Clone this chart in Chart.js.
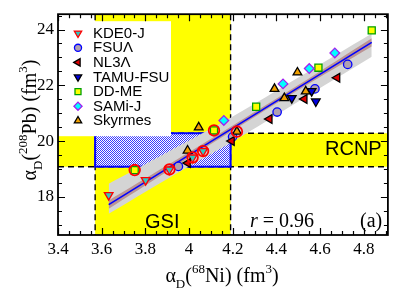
<!DOCTYPE html>
<html><head><meta charset="utf-8">
<script src="https://cdn.jsdelivr.net/npm/chart.js@4/dist/chart.umd.min.js"></script>
<style>html,body{margin:0;padding:0;background:#fff;} #wrap{width:395px;height:289px;position:relative;}</style>
</head><body><div id="wrap"><canvas id="c" width="395" height="289"></canvas></div>
<script>
// ---- data ----
const xTicks = [3.4, 3.6, 3.8, 4, 4.2, 4.4, 4.6, 4.8];
const yTicks = [18, 20, 22, 24];
const xRange = [3.4, 4.91];
const yRange = [16.63, 24.55];

const kde0jX = [3.632, 3.801, 3.910, 4.016, 4.064];
const kde0jY = [18.06, 18.60, 18.98, 19.41, 19.64];
const fsuLX = [3.951, 4.199, 4.403, 4.576, 4.726];
const fsuLY = [19.09, 20.15, 21.04, 21.87, 22.75];
const nl3LX = [3.994, 4.195, 4.368, 4.528, 4.678];
const nl3LY = [19.21, 20.00, 20.79, 21.51, 22.27];
const tamuX = [4.470, 4.561, 4.580];
const tamuY = [21.54, 21.79, 21.42];
const ddmeX = [3.751, 4.114, 4.307, 4.592, 4.836];
const ddmeY = [18.96, 20.38, 21.23, 22.63, 23.97];
const samiX = [4.159, 4.430, 4.550, 4.667];
const samiY = [20.74, 22.05, 22.60, 23.16];
const skyX = [3.993, 4.044, 4.219, 4.391, 4.436, 4.496, 4.534];
const skyY = [19.66, 20.49, 20.34, 21.87, 21.54, 22.46, 21.78];
const markedX = [3.751, 3.910, 4.016, 4.064, 4.114, 4.219];
const markedY = [18.96, 18.98, 19.41, 19.64, 20.38, 20.34];

const fitX = [3.632, 4.836];
const fitY = [17.72, 23.54];
const bandX = [3.632, 3.9, 4.2, 4.5, 4.836];
const bandHi = [18.47, 19.60, 20.88, 22.28, 23.86];
const bandLo = [17.39, 18.64, 19.98, 21.42, 23.02];
const errHi = [17.87, 19.13, 20.56, 22.01, 23.69];
const errLo = [17.57, 18.91, 20.38, 21.83, 23.39];

const gsiX = [3.57, 4.19];
const rcnpY = [19.08, 20.28];

const seriesNames = ['KDE0-J', 'FSU\u039B', 'NL3\u039B', 'TAMU-FSU', 'DD-ME', 'SAMi-J', 'Skyrmes'];
const annGSI = 'GSI', annRCNP = 'RCNP', annR = '0.96', annPanel = '(a)';

// ---- styles ----
const mk = [
  {style:'triangle', rot:180, fill:'#30c8c0', stroke:'#ff0000', r:5},
  {style:'circle', rot:0, fill:'#b0a0b0', stroke:'#0000ff', r:4.2},
  {style:'triangle', rot:-90, fill:'#e00000', stroke:'#000000', r:5},
  {style:'triangle', rot:180, fill:'#0000e0', stroke:'#000000', r:5},
  {style:'rect', rot:0, fill:'#ffff00', stroke:'#00a000', r:5},
  {style:'rectRot', rot:0, fill:'#00ffff', stroke:'#a020f0', r:4.8},
  {style:'triangle', rot:0, fill:'#f0a000', stroke:'#000000', r:5}
];
const seriesX = [kde0jX, fsuLX, nl3LX, tamuX, ddmeX, samiX, skyX];
const seriesY = [kde0jY, fsuLY, nl3LY, tamuY, ddmeY, samiY, skyY];
const pts = (xs, ys) => xs.map((x, i) => ({x: x, y: ys[i]}));

const datasets = [
  {type:'line', data: pts(bandX, bandHi), borderWidth:0, pointRadius:0, fill:false, order:12, tension:0.3},
  {type:'line', data: pts(bandX, bandLo), borderWidth:0, pointRadius:0, fill:'-1', backgroundColor:'#d4d4d4', order:11, tension:0.3},
  {type:'line', data: pts(bandX, errHi), borderWidth:0, pointRadius:0, fill:false, order:10, tension:0.3},
  {type:'line', data: pts(bandX, errLo), borderWidth:0, pointRadius:0, fill:'-1', backgroundColor:'#bc9494', order:9, tension:0.3},
  {type:'line', data: pts(fitX, fitY), borderColor:'#0000ff', borderWidth:1.6, pointRadius:0, fill:false, order:8}
];
seriesX.forEach((xs, i) => {
  datasets.push({
    type:'scatter', label: seriesNames[i], data: pts(xs, seriesY[i]),
    pointStyle: mk[i].style, rotation: mk[i].rot, pointRadius: mk[i].r,
    backgroundColor: mk[i].fill, borderColor: mk[i].stroke, borderWidth: 1.3,
    order: 7 - i
  });
});
datasets.push({type:'scatter', data: pts(markedX, markedY), pointStyle:'circle', pointRadius:5.3,
  backgroundColor:'rgba(0,0,0,0)', borderColor:'#ff0000', borderWidth:1.8, order:0});

// ---- helpers ----
function drawMarker(ctx, m, x, y) {
  ctx.save();
  ctx.translate(x, y);
  ctx.rotate(m.rot * Math.PI / 180);
  ctx.beginPath();
  const r = m.r;
  if (m.style === 'circle') ctx.arc(0, 0, r, 0, Math.PI * 2);
  else if (m.style === 'triangle') { ctx.moveTo(0, -r); ctx.lineTo(r*0.866, r*0.5); ctx.lineTo(-r*0.866, r*0.5); ctx.closePath(); }
  else if (m.style === 'rect') { const s = r * Math.SQRT1_2; ctx.rect(-s, -s, 2*s, 2*s); }
  else if (m.style === 'rectRot') { ctx.moveTo(0, -r); ctx.lineTo(r, 0); ctx.lineTo(0, r); ctx.lineTo(-r, 0); ctx.closePath(); }
  ctx.fillStyle = m.fill; ctx.fill();
  ctx.lineWidth = 1.3; ctx.strokeStyle = m.stroke; ctx.stroke();
  ctx.restore();
}
function richText(ctx, parts, cx, base, size) {
  const fam = '"Liberation Serif", "Times New Roman", serif';
  const small = Math.round(size * 0.65);
  let w = 0;
  parts.forEach(p => { ctx.font = (p.k === 'n' ? size : small) + 'px ' + fam; p.w = ctx.measureText(p.t).width; w += p.w; });
  let x = cx - w / 2;
  ctx.textAlign = 'left'; ctx.textBaseline = 'alphabetic'; ctx.fillStyle = '#000';
  parts.forEach(p => {
    ctx.font = (p.k === 'n' ? size : small) + 'px ' + fam;
    const dy = p.k === 'sup' ? -size * 0.45 : (p.k === 'sub' ? size * 0.3 : 0);
    ctx.fillText(p.t, x, base + dy);
    x += p.w;
  });
}
let hatch = null;
function getHatch(ctx) {
  if (hatch) return hatch;
  const c = document.createElement('canvas'); c.width = 2; c.height = 2;
  const g = c.getContext('2d');
  g.fillStyle = '#ffffff'; g.fillRect(0, 0, 2, 2);
  g.fillStyle = '#3a3aff'; g.fillRect(0, 0, 1, 1); g.fillRect(1, 1, 1, 1);
  hatch = ctx.createPattern(c, 'repeat');
  return hatch;
}

const deco = {
  id: 'deco',
  beforeDatasetsDraw(chart) {
    const ctx = chart.ctx, a = chart.chartArea, xs = chart.scales.x, ys = chart.scales.y;
    ctx.save();
    ctx.beginPath(); ctx.rect(a.left, a.top, a.right - a.left, a.bottom - a.top); ctx.clip();
    const gx0 = xs.getPixelForValue(gsiX[0]), gx1 = xs.getPixelForValue(gsiX[1]);
    const ry0 = ys.getPixelForValue(rcnpY[1]), ry1 = ys.getPixelForValue(rcnpY[0]);
    ctx.fillStyle = '#ffff00';
    ctx.fillRect(gx0, a.top, gx1 - gx0, a.bottom - a.top);
    ctx.fillRect(a.left, ry0, a.right - a.left, ry1 - ry0);
    ctx.strokeStyle = '#000'; ctx.lineWidth = 1.4; ctx.setLineDash([6, 4]);
    ctx.beginPath();
    ctx.moveTo(gx0, a.top); ctx.lineTo(gx0, a.bottom);
    ctx.moveTo(gx1, a.top); ctx.lineTo(gx1, a.bottom);
    ctx.moveTo(a.left, ry0); ctx.lineTo(a.right, ry0);
    ctx.moveTo(a.left, ry1); ctx.lineTo(a.right, ry1);
    ctx.stroke();
    ctx.setLineDash([]);
    ctx.fillStyle = getHatch(ctx);
    ctx.fillRect(gx0, ry0, gx1 - gx0, ry1 - ry0);
    ctx.strokeStyle = '#0000ff'; ctx.lineWidth = 2;
    ctx.strokeRect(gx0, ry0, gx1 - gx0, ry1 - ry0);
    // legend box
    ctx.fillStyle = '#ffffff';
    ctx.fillRect(a.left, a.top + 7, 113, 115);
    ctx.font = '15px "Liberation Sans", Arial, sans-serif';
    ctx.textAlign = 'left'; ctx.textBaseline = 'middle';
    seriesNames.forEach((n, i) => {
      const y = a.top + 19 + i * 14.6;
      drawMarker(ctx, Object.assign({}, mk[i], {r: mk[i].r * 0.85}), a.left + 20, y);
      ctx.fillStyle = '#000';
      ctx.fillText(n, a.left + 35, y + 0.5);
    });
    ctx.restore();
  },
  afterDatasetsDraw(chart) {
    const ctx = chart.ctx, a = chart.chartArea, xs = chart.scales.x, ys = chart.scales.y;
    ctx.save();
    ctx.strokeStyle = '#000'; ctx.lineWidth = 1.2;
    ctx.beginPath();
    for (let v = 3.4; v <= xRange[1] + 1e-9; v += 0.05) {
      const major = Math.abs(v * 5 - Math.round(v * 5)) < 1e-6;
      const L = major ? 7 : 4;
      const px = Math.round(xs.getPixelForValue(v)) + 0.5;
      ctx.moveTo(px, a.bottom); ctx.lineTo(px, a.bottom - L);
      ctx.moveTo(px, a.top); ctx.lineTo(px, a.top + L);
    }
    for (let v = 17; v <= yRange[1] + 1e-9; v += 0.5) {
      const major = Math.abs(v / 2 - Math.round(v / 2)) < 1e-6;
      const L = major ? 7 : 4;
      const py = Math.round(ys.getPixelForValue(v)) + 0.5;
      ctx.moveTo(a.left, py); ctx.lineTo(a.left + L, py);
      ctx.moveTo(a.right, py); ctx.lineTo(a.right - L, py);
    }
    ctx.stroke();
    ctx.lineWidth = 1.8;
    ctx.strokeRect(a.left, a.top, a.right - a.left, a.bottom - a.top);
    // annotations
    ctx.fillStyle = '#000';
    ctx.textBaseline = 'alphabetic'; ctx.textAlign = 'left';
    ctx.font = '20px "Liberation Sans", Arial, sans-serif';
    ctx.fillText(annGSI, 145, 228);
    ctx.fillText(annRCNP, 325, 155);
    ctx.font = 'italic 20px "Liberation Serif", serif';
    ctx.fillText('r', 250, 227);
    const rw = ctx.measureText('r').width;
    ctx.font = '20px "Liberation Serif", serif';
    ctx.fillText(' = ' + annR, 250 + rw, 227);
    ctx.fillText(annPanel, 360, 227);
    // axis titles
    richText(ctx, [{t:'\u03B1',k:'n'},{t:'D',k:'sub'},{t:'(',k:'n'},{t:'68',k:'sup'},{t:'Ni) (fm',k:'n'},{t:'3',k:'sup'},{t:')',k:'n'}], 222, 282, 20);
    ctx.translate(36, 120); ctx.rotate(-Math.PI / 2);
    richText(ctx, [{t:'\u03B1',k:'n'},{t:'D',k:'sub'},{t:'(',k:'n'},{t:'208',k:'sup'},{t:'Pb) (fm',k:'n'},{t:'3',k:'sup'},{t:')',k:'n'}], 0, 0, 20);
    ctx.restore();
  }
};

const tickFont = {family: '"Liberation Serif", "Times New Roman", serif', size: 17};
new Chart(document.getElementById('c').getContext('2d'), {
  type: 'scatter',
  data: {datasets: datasets},
  options: {
    responsive: false, animation: false, devicePixelRatio: 1,
    layout: {padding: {top: 2, right: 2, left: 0, bottom: 0}},
    plugins: {legend: {display: false}, tooltip: {enabled: false}},
    scales: {
      x: {type: 'linear', min: xRange[0], max: xRange[1],
          grid: {display: false, drawTicks: false}, border: {display: false},
          ticks: {font: tickFont, color: '#000', padding: 4, maxRotation: 0, autoSkip: false, callback: v => String(v)},
          afterBuildTicks: s => { s.ticks = xTicks.map(v => ({value: v})); },
          afterFit: s => { s.height = 54; }},
      y: {type: 'linear', min: yRange[0], max: yRange[1],
          grid: {display: false, drawTicks: false}, border: {display: false},
          ticks: {font: tickFont, color: '#000', padding: 4, autoSkip: false, callback: v => String(v)},
          afterBuildTicks: s => { s.ticks = yTicks.map(v => ({value: v})); },
          afterFit: s => { s.width = 58; }}
    }
  },
  plugins: [deco]
});
</script></body></html>
